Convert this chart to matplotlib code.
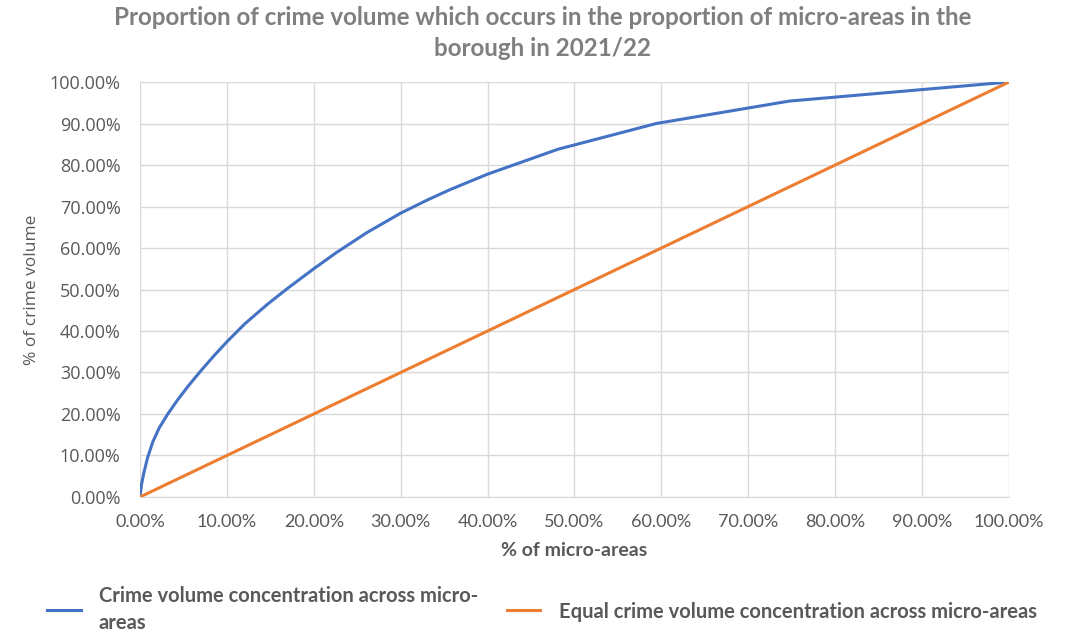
import matplotlib.pyplot as plt
from matplotlib.ticker import FuncFormatter, MultipleLocator

# Cumulative share of micro-areas (x) vs cumulative share of crime (y), in %
area_pct = [0, 0.19, 0.5, 0.88, 1.46, 2.2, 3.2, 4.3, 5.5, 7.0, 8.5, 10.0,
            12.1, 14.7, 17.0, 20.0, 22.6, 26.1, 30.0, 32.9, 35.6, 40.0,
            48.1, 59.4, 74.7, 100.0]
crime_pct = [0, 3.2, 6.3, 9.5, 13.2, 16.6, 20.0, 23.3, 26.6, 30.4, 34.0, 37.4,
             41.8, 46.5, 50.3, 55.0, 58.9, 63.7, 68.4, 71.4, 74.0, 77.8,
             83.8, 90.0, 95.4, 100.0]
equal_x = [0, 100]
equal_y = [0, 100]

series_labels = [
    "Crime volume concentration across micro-\nareas",
    "Equal crime volume concentration across micro-areas",
]

text_gray = "#595959"
font = ["Lato", "DejaVu Sans"]
font_y = ["Open Sans", "DejaVu Sans"]
plt.rcParams["font.family"] = font

fig = plt.figure(figsize=(10.71, 6.31), dpi=100)
ax = fig.add_axes([0.1307, 0.2124, 0.8114, 0.6576])

ax.plot(area_pct, crime_pct, color="#4472C4", linewidth=2.2,
        label=series_labels[0])
ax.plot(equal_x, equal_y, color="#ED7D31", linewidth=2.2,
        label=series_labels[1])

ax.set_xlim(0, 100)
ax.set_ylim(0, 100)
ax.xaxis.set_major_locator(MultipleLocator(10))
ax.yaxis.set_major_locator(MultipleLocator(10))
pct = FuncFormatter(lambda v, _: f"{v:.2f}%")
ax.xaxis.set_major_formatter(pct)
ax.yaxis.set_major_formatter(pct)

ax.grid(True, color="#D9D9D9", linewidth=1.0)
ax.set_axisbelow(True)
for side in ["top", "right", "left"]:
    ax.spines[side].set_visible(False)
ax.spines["bottom"].set_color("#D9D9D9")
ax.tick_params(axis="x", length=0, labelsize=13, colors=text_gray, pad=12)
ax.tick_params(axis="y", length=0, labelsize=13, colors=text_gray, pad=14)
for lbl in ax.get_yticklabels():
    lbl.set_family(font_y)

ax.set_xlabel("% of micro-areas", fontsize=14, color=text_gray,
              fontweight="bold", labelpad=9)
ax.set_ylabel("% of crime volume", fontsize=12.5, color=text_gray,
              family=font_y, labelpad=7)

fig.suptitle("Proportion of crime volume which occurs in the proportion of micro-areas in the\nborough in 2021/22",
             x=0.507, y=0.99, fontsize=17.4, fontweight="bold", color="#7F7F7F",
             linespacing=1.4)

leg = fig.legend(loc="center", bbox_to_anchor=(0.506, 0.034), ncol=2,
                 frameon=False, handlelength=1.65, handletextpad=0.9,
                 columnspacing=1.45,
                 prop={"family": font, "size": 14.5, "weight": "bold"})
for txt in leg.get_texts():
    txt.set_color(text_gray)
    txt.set_linespacing(1.4)

fig.savefig("out.png", dpi=100)
